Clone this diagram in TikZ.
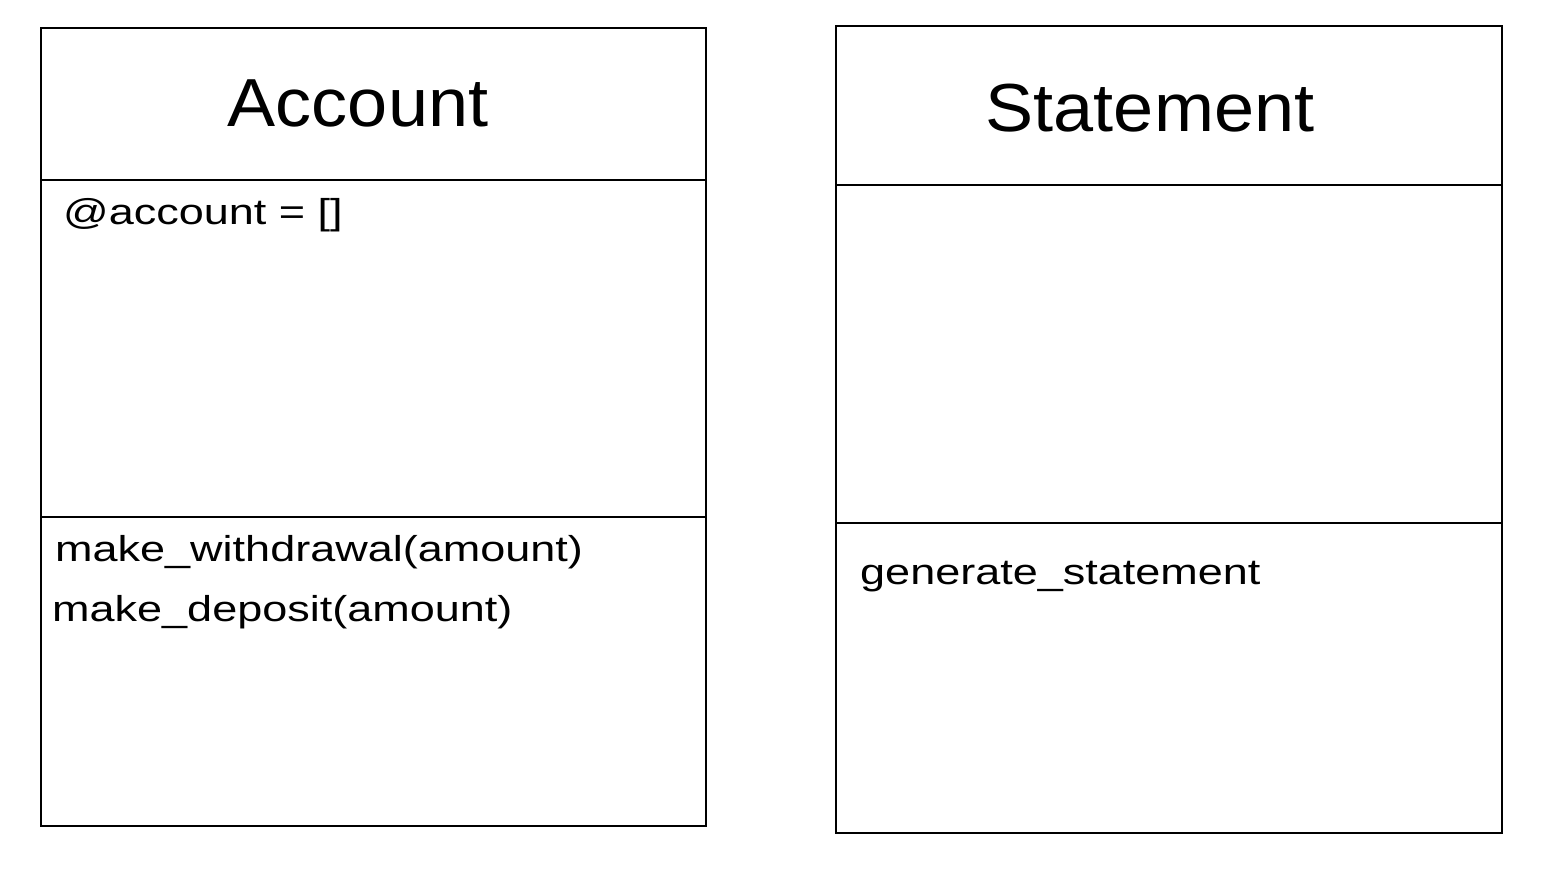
\documentclass[tikz,border=0pt]{standalone}
\usepackage{fontspec}
\setmainfont{Liberation Sans}
\newfontfamily\wide{Liberation Sans}[FakeStretch=1.25]
\newfontfamily\widet{Liberation Sans}[FakeStretch=1.06]
\begin{document}
\begin{tikzpicture}[x=1pt,y=-1pt,
  box/.style={draw=black,line width=2.2pt,rectangle,inner sep=0pt,anchor=north west},
  div/.style={draw=black,line width=2.2pt},
  title/.style={font=\widet\fontsize{68}{70}\selectfont,anchor=center,inner sep=0pt},
  txt/.style={font=\wide\fontsize{36}{38}\selectfont,anchor=west,inner sep=0pt}]
\useasboundingbox[fill=white] (0,0) rectangle (1550,874);
% Account
\node[box,minimum width=665pt,minimum height=798pt] (acc) at (40,27) {};
\coordinate (a1l) at (40,180); \coordinate (a1r) at (705,180);
\coordinate (a2l) at (40,517); \coordinate (a2r) at (705,517);
\draw[div] (a1l) -- (a1r);
\draw[div] (a2l) -- (a2r);
\node[title] (acct) at (358,103) {Account};
\node[txt] (accattr) at (63,215) {@account = []};
\node[txt] (m1) at (55,552) {make\_withdrawal(amount)};
\node[txt] (m2) at (52,612) {make\_deposit(amount)};
% Statement
\node[box,minimum width=666pt,minimum height=807pt] (st) at (835,25) {};
\coordinate (s1l) at (835,185); \coordinate (s1r) at (1501,185);
\coordinate (s2l) at (835,523); \coordinate (s2r) at (1501,523);
\draw[div] (s1l) -- (s1r);
\draw[div] (s2l) -- (s2r);
\node[title] (stt) at (1150,108) {Statement};
\node[txt] (gs) at (860,577) {generate\_statement};
\end{tikzpicture}
\end{document}
